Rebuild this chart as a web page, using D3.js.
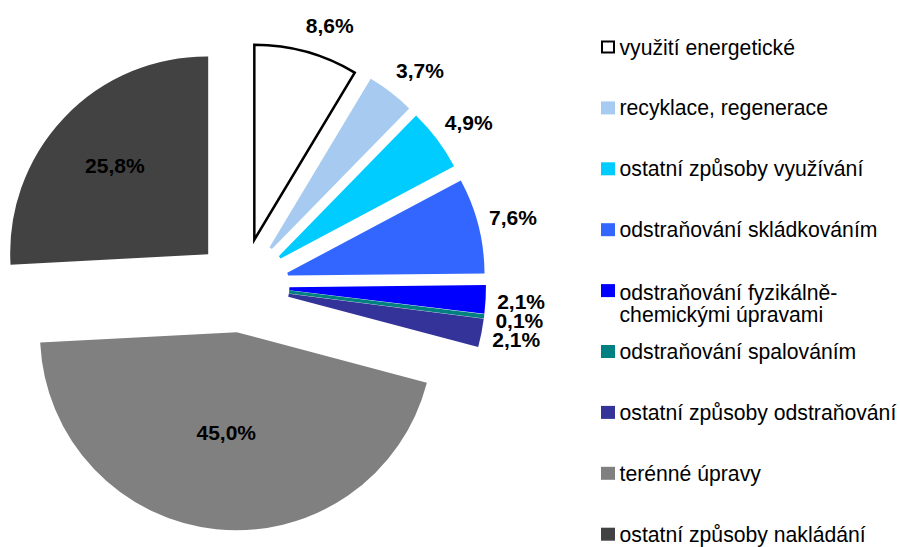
<!DOCTYPE html>
<html>
<head>
<meta charset="utf-8">
<script src="https://cdn.jsdelivr.net/npm/d3@7"></script>
<style>
  body { margin: 0; background: #fff; }
  svg { display: block; font-family: "Liberation Sans", Arial, sans-serif; }
</style>
</head>
<body>
<svg id="chart" width="900" height="547"></svg>
<script>
// waste handling methods, share in %
const categories = [
  'využití energetické',
  'recyklace, regenerace',
  'ostatní způsoby využívání',
  'odstraňování skládkováním',
  'odstraňování fyzikálně-chemickými úpravami',
  'odstraňování spalováním',
  'ostatní způsoby odstraňování',
  'terénné úpravy',
  'ostatní způsoby nakládání'
]
const values = [8.6, 3.7, 4.9, 7.6, 2.1, 0.1, 2.1, 45.0, 25.8]
const colors = ['#ffffff', '#a6caf0', '#00ccff', '#3366ff', '#0000ff', '#008080', '#333399', '#808080', '#424242']

const width = 900
const height = 547
const cx = 241.5, cy = 286
const radius = 195
const explode = 48
const labelR = 232

const czFmt = d3.formatLocale({ decimal: ',', thousands: ' ', grouping: [3], currency: ['', ' Kč'] }).format('.1f')

const svg = d3.select('#chart')
const data = values.map((v, i) => ({ name: categories[i], value: v, color: colors[i] }))

const pie = d3.pie().sort(null).value(d => d.value)
const arc = d3.arc().innerRadius(0).outerRadius(radius)
const arcs = pie(data)

// offset of each exploded slice
arcs.forEach(a => {
  a.mid = (a.startAngle + a.endAngle) / 2
  a.ox = cx + explode * Math.sin(a.mid)
  a.oy = cy - explode * Math.cos(a.mid)
})

const g = svg.append('g')
g.selectAll('path.slice')
  .data(arcs)
  .join('path')
  .attr('class', 'slice')
  .attr('transform', d => `translate(${d.ox},${d.oy})`)
  .attr('d', arc)
  .attr('fill', d => d.data.color)
  .attr('stroke', d => d.index === 0 ? '#000' : d.data.color)
  .attr('stroke-width', d => d.index === 0 ? 2.5 : 3)
  .attr('stroke-linejoin', 'miter')

// data labels
const fs = 21
arcs.forEach(a => {
  let x, y
  const s = Math.sin(a.mid), c = Math.cos(a.mid)
  if (a.data.value > 20) {
    // inside, near the centroid of the sector
    const half = (a.endAngle - a.startAngle) / 2
    const rc = 1.09 * 2 * radius * Math.sin(half) / (3 * half)
    x = a.ox + rc * s
    y = a.oy - rc * c
  } else {
    // outside end; labels in the upper part slide a bit clockwise
    const t = c > 0 ? 15 * c * c : 0
    x = a.ox + labelR * s + t * c
    y = Math.max(25.5, a.oy - labelR * c + t * s)
  }
  svg.append('text')
    .attr('x', x)
    .attr('y', y + fs * 0.36)
    .attr('text-anchor', 'middle')
    .attr('font-size', fs)
    .attr('font-weight', 'bold')
    .attr('fill', '#000')
    .text(czFmt(a.data.value) + '%')
})

// legend
const legY0 = 47, legStep = 60.9
const leg = svg.append('g').attr('transform', 'translate(601,0)')
data.forEach((d, i) => {
  const y = legY0 + i * legStep
  const item = leg.append('g')
  item.append('rect')
    .attr('x', i === 0 ? 1 : 0).attr('y', y - 6.5 + (i === 0 ? 1 : 0))
    .attr('width', i === 0 ? 12 : 14).attr('height', i === 0 ? 11 : 13)
    .attr('fill', d.color)
    .attr('stroke', i === 0 ? '#000' : 'none')
    .attr('stroke-width', 2)
  const lines = d.name.split(/(?<=-)/)
  lines.forEach((ln, j) => {
    item.append('text')
      .attr('x', 18.5)
      .attr('y', y + (lines.length > 1 ? 1.5 : 0) + j * 22 + 7.5)
      .attr('font-size', 21.2)
      .attr('fill', '#000')
      .text(ln)
  })
})
</script>
</body>
</html>
